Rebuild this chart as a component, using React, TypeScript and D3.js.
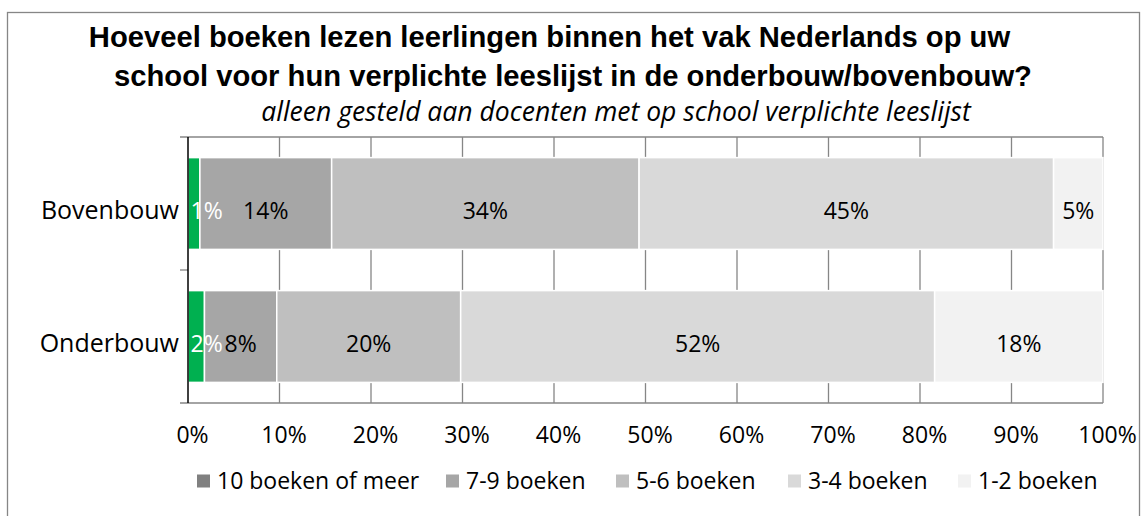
import { useEffect, useRef } from 'react';
import { select, scaleLinear, scaleBand, axisBottom, range } from 'd3';

const categories = ['Bovenbouw', 'Onderbouw'];
const seriesNames = ['10 boeken of meer', '7-9 boeken', '5-6 boeken', '3-4 boeken', '1-2 boeken'];
const bovenbouw = [1.3, 14.4, 33.6, 45.3, 5.4];
const onderbouw = [1.8, 7.9, 20.1, 51.8, 18.4];
const xTicks = [0, 10, 20, 30, 40, 50, 60, 70, 80, 90, 100];

const legendColors = ['#808080', '#a6a6a6', '#bfbfbf', '#d9d9d9', '#f2f2f2'];
const barColors = ['#00b050', '#a6a6a6', '#bfbfbf', '#d9d9d9', '#f2f2f2'];
const labelColors = ['#ffffff', '#000000', '#000000', '#000000', '#000000'];

const W = 1141;
const H = 516;
const margin = { left: 188, right: 1103, top: 137, bottom: 403 };
const font = '"Open Sans", Calibri, sans-serif';
const fs = 23;

const App = () => {
  const svgRef = useRef<SVGSVGElement>(null);

  useEffect(() => {
    const svg = select(svgRef.current);
    svg.selectAll('*').remove();

    const rows = [bovenbouw, onderbouw];

    const x = scaleLinear().domain([0, 100]).range([margin.left, margin.right]);
    const y = scaleBand()
      .domain(categories)
      .range([margin.top, margin.bottom])
      .paddingInner(0.31)
      .paddingOuter(0.155);

    // outer frame
    svg
      .append('rect')
      .attr('x', 7.5)
      .attr('y', 12.5)
      .attr('width', 1132)
      .attr('height', 540)
      .attr('fill', '#fff')
      .attr('stroke', '#868686')
      .attr('stroke-width', 1.3);

    // title
    const title = svg
      .append('g')
      .attr('font-family', '"Liberation Sans", Arial, sans-serif')
      .attr('font-weight', 'bold')
      .attr('font-size', 29.2)
      .attr('fill', '#000');
    title
      .append('text')
      .attr('x', 549.5)
      .attr('y', 47)
      .attr('text-anchor', 'middle')
      .text('Hoeveel boeken lezen leerlingen binnen het vak Nederlands op uw');
    title
      .append('text')
      .attr('x', 573)
      .attr('y', 86)
      .attr('text-anchor', 'middle')
      .text('school voor hun verplichte leeslijst in de onderbouw/bovenbouw?');
    svg
      .append('text')
      .attr('x', 616)
      .attr('y', 121)
      .attr('text-anchor', 'middle')
      .attr('font-family', font)
      .attr('font-style', 'italic')
      .attr('font-size', 26.5)
      .text('alleen gesteld aan docenten met op school verplichte leeslijst');

    // grid
    const grid = svg.append('g').attr('stroke', '#868686').attr('stroke-width', 1.3);
    grid
      .selectAll('line.v')
      .data(xTicks.slice(1))
      .join('line')
      .attr('x1', (d) => x(d))
      .attr('x2', (d) => x(d))
      .attr('y1', margin.top)
      .attr('y2', margin.bottom);
    grid
      .selectAll('line.h')
      .data([margin.top, margin.bottom])
      .join('line')
      .attr('x1', margin.left - 8)
      .attr('x2', margin.right)
      .attr('y1', (d) => d)
      .attr('y2', (d) => d);
    grid
      .append('line')
      .attr('x1', margin.left - 8)
      .attr('x2', margin.left)
      .attr('y1', (margin.top + margin.bottom) / 2)
      .attr('y2', (margin.top + margin.bottom) / 2);

    // bars
    const bars = svg.append('g');
    const labels = svg.append('g');
    rows.forEach((vals, ri) => {
      const cat = categories[ri];
      const mid = y(cat)! + y.bandwidth() / 2;
      let acc = 0;
      vals.forEach((v, si) => {
        const x0 = x(acc);
        const x1 = x(acc + v);
        acc += v;
        bars
          .append('rect')
          .attr('x', x0)
          .attr('y', y(cat)!)
          .attr('width', x1 - x0)
          .attr('height', y.bandwidth())
          .attr('fill', barColors[si])
          .attr('stroke', '#fff')
          .attr('stroke-width', 1.5);
        const label = `${Math.round(v)}%`;
        const w = label.length * fs * 0.68;
        const cx = Math.max((x0 + x1) / 2, margin.left + w / 2 + 3);
        labels
          .append('text')
          .attr('x', cx)
          .attr('y', mid + 7 + 0.357 * fs)
          .attr('text-anchor', 'middle')
          .attr('font-family', font)
          .attr('font-size', fs)
          .attr('fill', labelColors[si])
          .text(label);
      });
    });

    // left axis line
    svg
      .append('line')
      .attr('x1', margin.left)
      .attr('x2', margin.left)
      .attr('y1', margin.top)
      .attr('y2', margin.bottom)
      .attr('stroke', '#000')
      .attr('stroke-width', 1.5);

    // category labels
    svg
      .selectAll('text.cat')
      .data(categories)
      .join('text')
      .attr('class', 'cat')
      .attr('x', margin.left - 9)
      .attr('y', (d) => y(d)! + y.bandwidth() / 2 + 7 + 0.357 * 25)
      .attr('text-anchor', 'end')
      .attr('font-family', font)
      .attr('font-size', 25)
      .text((d) => d);

    // x axis
    const xAxis = axisBottom(x)
      .tickValues(xTicks)
      .tickSize(0)
      .tickPadding(24)
      .tickFormat((d) => `${d}%`);
    const ax = svg.append('g').attr('transform', `translate(0, ${margin.bottom})`).call(xAxis);
    ax.select('.domain').remove();
    ax.selectAll('text')
      .attr('font-family', font)
      .attr('font-size', fs)
      .attr('fill', '#000')
      .attr('dx', 4);

    // legend
    const legendX = [197, 446, 616, 788, 958];
    const legend = svg
      .selectAll('g.legend')
      .data(range(seriesNames.length))
      .join('g')
      .attr('class', 'legend')
      .attr('transform', (i) => `translate(${legendX[i]}, 481)`);
    legend
      .append('rect')
      .attr('x', 0)
      .attr('y', -6.5)
      .attr('width', 13)
      .attr('height', 13)
      .attr('fill', (i) => legendColors[i]);
    legend
      .append('text')
      .attr('x', 20)
      .attr('y', 0)
      .attr('dy', '0.36em')
      .attr('font-family', font)
      .attr('font-size', fs)
      .text((i) => seriesNames[i]);
  }, []);

  return (
    <svg
      ref={svgRef}
      width={W}
      height={H}
      style={{ position: 'absolute', left: 0, top: 0, background: '#fff' }}
    />
  );
};

export default App;
